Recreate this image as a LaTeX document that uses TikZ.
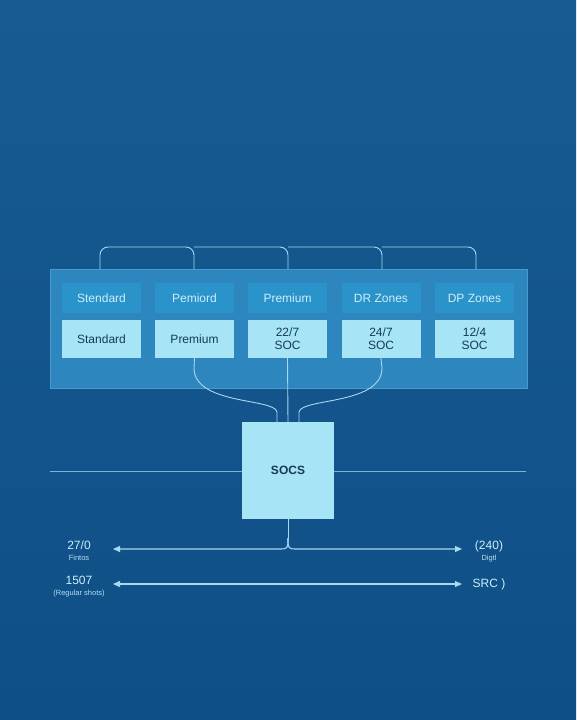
\documentclass[tikz,border=0pt]{standalone}
\usepackage{fontspec}
\setmainfont{Liberation Sans}
\usetikzlibrary{arrows.meta}
\definecolor{bgtop}{HTML}{175B91}
\definecolor{bgbot}{HTML}{0E4F86}
\definecolor{panel}{HTML}{2E86BF}
\definecolor{panelb}{HTML}{4A9ACB}
\definecolor{head}{HTML}{2A93CA}
\definecolor{lite}{HTML}{A6E4F6}
\definecolor{wire}{HTML}{A9D9F1}
\definecolor{dtext}{HTML}{163A55}
\definecolor{ltext}{HTML}{CDEEFA}
\tikzset{
  headbox/.style={fill=head, draw=none, minimum width=79pt, minimum height=30pt, inner sep=0pt, text=ltext, font=\fontsize{12}{13}\selectfont},
  litebox/.style={fill=lite, draw=none, minimum width=79pt, minimum height=38pt, inner sep=0pt, text=dtext, font=\fontsize{12}{13}\selectfont, align=center},
  wireline/.style={draw=wire, line width=0.9pt},
  arrowline/.style={draw=wire, line width=1.1pt, -{Triangle[length=7pt,width=6pt]}},
  lbl/.style={text=ltext, font=\fontsize{12}{13}\selectfont, inner sep=0pt},
  sublbl/.style={text=ltext!85!head, font=\fontsize{7.5}{8}\selectfont, inner sep=0pt}
}
\begin{document}
\begin{tikzpicture}[x=1pt,y=-1pt]
\useasboundingbox (0,0) rectangle (576,720);
\shade[top color=bgtop, bottom color=bgbot] (0,0) rectangle (576,720);
% horizontal divider
\draw[draw=wire!70!bgtop, line width=0.7pt] (50,471) -- (526,471);
% panel
\node[fill=panel, draw=panelb, line width=0.6pt, minimum width=477pt, minimum height=119pt, inner sep=0pt] (panel) at (288.5,328.5) {};
% header boxes
\node[headbox] (h1) at (101.5,298) {Stendard};
\node[headbox] (h2) at (194.5,298) {Pemiord};
\node[headbox] (h3) at (287.5,298) {Premium};
\node[headbox] (h4) at (381,298) {DR Zones};
\node[headbox] (h5) at (474.5,298) {DP Zones};
% light boxes
\node[litebox] (b1) at (101.5,339) {Standard};
\node[litebox] (b2) at (194.5,339) {Premium};
\node[litebox] (b3) at (287.5,339) {22/7\\SOC};
\node[litebox] (b4) at (381,339) {24/7\\SOC};
\node[litebox] (b5) at (474.5,339) {12/4\\SOC};
% top bracket
\coordinate (t1) at (100,269);
\coordinate (t2) at (194,269);
\coordinate (t3) at (288,269);
\coordinate (t4) at (382,269);
\coordinate (t5) at (476,269);
\draw[wireline, rounded corners=8pt] (t1) -- (100,247) -- (194,247) -- (t2);
\draw[wireline, rounded corners=8pt] (194,247) -- (288,247) -- (t3);
\draw[wireline, rounded corners=8pt] (288,247) -- (382,247) -- (t4);
\draw[wireline, rounded corners=8pt] (382,247) -- (476,247) -- (t5);
% SOCS box
\node[fill=lite, minimum width=92pt, minimum height=97pt, inner sep=0pt, text=dtext, font=\bfseries\fontsize{12}{13}\selectfont] (socs) at (288,470.5) {SOCS};
% lines from panel to SOCS
\draw[wireline] (b2.south) -- (194,368) .. controls (194,405) and (275,398) .. (277,412) -- (277,422);
\draw[wireline] (b3.south) -- (socs.north);
\draw[wireline] (b4.south) -- (382,368) .. controls (382,405) and (301,398) .. (299,412) -- (299,422);
% bottom split
\coordinate (al) at (113,549);
\coordinate (ar) at (462,549);
\draw[wireline] (socs.south) -- (288,538);
\draw[arrowline] (288,538) .. controls (288,549) .. (278,549) -- (al);
\draw[arrowline] (288,538) .. controls (288,549) .. (298,549) -- (ar);
% second arrow
\coordinate (bl) at (113,584);
\coordinate (br) at (462,584);
\draw[draw=wire, line width=1.1pt, {Triangle[length=7pt,width=6pt]}-{Triangle[length=7pt,width=6pt]}] (bl) -- (br);
% labels
\node[lbl] (l1) at (79,545) {27/0};
\node[sublbl] (l1s) at (79,558) {Fintos};
\node[lbl] (l2) at (79,580) {1507};
\node[sublbl] (l2s) at (79,594) {(Regular shots)};
\node[lbl] (r1) at (489,546) {(240)};
\node[sublbl] (r1s) at (489,559) {Digtl};
\node[lbl] (r2) at (489,584) {SRC )};
\end{tikzpicture}
\end{document}
